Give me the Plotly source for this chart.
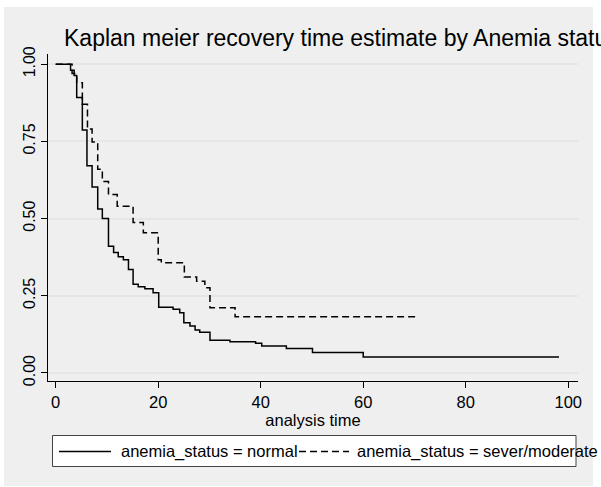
import plotly.graph_objects as go

# Kaplan-Meier step data
normal_t = [0, 2.9, 3.6, 4.1, 5.2, 6.1, 7.1, 8.2, 9.1, 10.3, 11.3, 12.2, 13.2, 14.2, 15.1, 16.1, 17.4,
            19.0, 20.1, 22.9, 24.2, 25.0, 26.2, 27.2, 28.1, 30.1, 34.0, 39.0, 40.2, 45.0, 50.1, 60.0, 98.2]
normal_s = [1.0, 0.98, 0.963, 0.892, 0.787, 0.671, 0.602, 0.531, 0.500, 0.41, 0.39, 0.376, 0.367, 0.335,
            0.287, 0.279, 0.273, 0.260, 0.213, 0.206, 0.195, 0.163, 0.152, 0.139, 0.132, 0.106, 0.101,
            0.096, 0.087, 0.079, 0.066, 0.052, 0.052]

severe_t = [0, 3.2, 4.1, 5.2, 6.2, 7.1, 8.2, 9.1, 10.3, 12.0, 15.1, 17.1, 20.0, 20.6, 25.1, 27.5, 29.1,
            30.1, 35.0, 70.2]
severe_s = [1.0, 0.97, 0.94, 0.87, 0.79, 0.748, 0.66, 0.62, 0.578, 0.540, 0.487, 0.454, 0.367, 0.357,
            0.311, 0.297, 0.276, 0.211, 0.182, 0.182]

x_ticks = [0, 20, 40, 60, 80, 100]
y_ticks = [0.0, 0.25, 0.5, 0.75, 1.0]
y_ticklabels = ["0.00", "0.25", "0.50", "0.75", "1.00"]

title_text = "Kaplan meier recovery time estimate by Anemia status"
x_title = "analysis time"
legend_names = ["anemia_status = normal", "anemia_status = sever/moderate"]

FONT = "Liberation Sans, Arial, sans-serif"
W, H = 601, 487
L, R, T, B = 48, 23, 54, 106
PW, PH = W - L - R, H - T - B


def px(X):
    return (X - L) / PW


def py(Y):
    return (H - B - Y) / PH


fig = go.Figure()
fig.add_trace(go.Scatter(x=normal_t, y=normal_s, mode="lines", line_shape="hv",
                         line=dict(color="black", width=1.5), name=legend_names[0], showlegend=False))
fig.add_trace(go.Scatter(x=severe_t, y=severe_s, mode="lines", line_shape="hv",
                         line=dict(color="black", width=1.5, dash="7px,4px"), name=legend_names[1],
                         showlegend=False))

shapes = [
    # outer gray graph region
    dict(type="rect", xref="paper", yref="paper", x0=px(4), x1=px(593), y0=py(486), y1=py(7),
         fillcolor="#efefef", line=dict(width=0), layer="below"),
    # legend box
    dict(type="rect", xref="paper", yref="paper", x0=px(52.5), x1=px(576), y0=py(466.5), y1=py(435.5),
         fillcolor="white", line=dict(color="#444444", width=1)),
    dict(type="line", xref="paper", yref="paper", x0=px(59), x1=px(111), y0=py(451.5), y1=py(451.5),
         line=dict(color="black", width=1.5)),
    dict(type="line", xref="paper", yref="paper", x0=px(299), x1=px(349), y0=py(451.5), y1=py(451.5),
         line=dict(color="black", width=1.5, dash="7px,4px")),
]

annotations = [
    dict(text=legend_names[0], xref="paper", yref="paper", x=px(119), y=py(451), xanchor="left",
         yanchor="middle", showarrow=False, font=dict(family=FONT, size=16.5, color="black")),
    dict(text=legend_names[1], xref="paper", yref="paper", x=px(355), y=py(451), xanchor="left",
         yanchor="middle", showarrow=False, font=dict(family=FONT, size=16.5, color="black")),
]

fig.update_layout(
    width=W, height=H,
    margin=dict(l=L, r=R, t=T, b=B, pad=0),
    paper_bgcolor="white", plot_bgcolor="white",
    showlegend=False,
    shapes=shapes, annotations=annotations,
    title=dict(text=title_text, x=px(64), xref="paper", xanchor="left",
               y=1 - 38 / H, yref="container", yanchor="middle",
               font=dict(family=FONT, size=23, color="black")),
    font=dict(family=FONT, size=16, color="black"),
)

fig.update_xaxes(range=[-1.5, 101.9], tickvals=x_ticks, ticks="outside", ticklen=6, tickcolor="black",
                 showline=True, linecolor="black", linewidth=1, showgrid=False, zeroline=False,
                 tickfont=dict(family=FONT, size=16.5), title=dict(text=x_title, standoff=2,
                 font=dict(family=FONT, size=16.5)))
fig.update_yaxes(range=[-0.026, 1.033], tickvals=y_ticks, ticktext=y_ticklabels, ticks="outside",
                 ticklen=6, tickcolor="black", tickangle=-90,
                 showline=True, linecolor="black", linewidth=1, showgrid=True, gridcolor="#e6e6e6",
                 gridwidth=1.5, zeroline=False, tickfont=dict(family=FONT, size=16))

fig.write_html("out.html")
